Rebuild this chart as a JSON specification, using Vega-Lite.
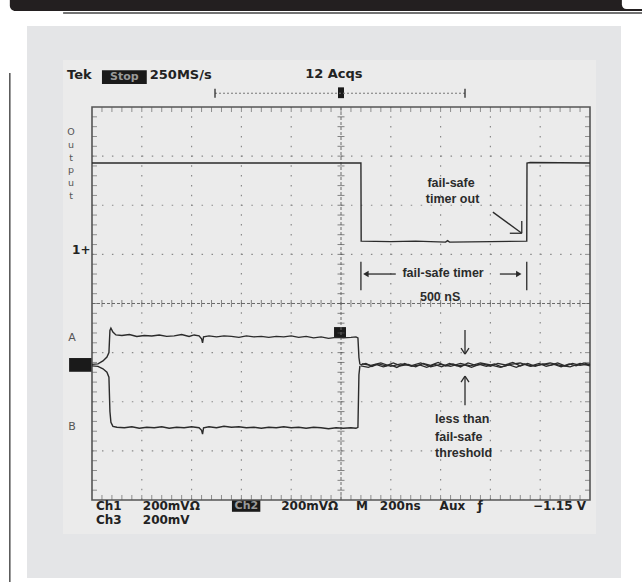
{
  "$schema": "https://vega.github.io/schema/vega-lite/v6.json",
  "width": 498,
  "height": 393,
  "autosize": {"type": "none"},
  "padding": {"left": 92, "top": 107, "right": 52, "bottom": 88},
  "background": "white",
  "config": {"view": {"stroke": null}},
  "datasets": {
    "frame": [
      {"part": "panel", "x0": -6.305, "x1": 5.622, "y0": 5.649, "y1": -5.588},
      {"part": "inner", "x0": -5.582, "x1": 5.12, "y0": 4.957, "y1": -4.692},
      {"part": "box", "x0": -4.8, "x1": -3.9, "y0": 4.75, "y1": 4.47},
      {"part": "box", "x0": -2.19, "x1": -1.62, "y0": -4.0, "y1": -4.24},
      {"part": "box", "x0": -5.46, "x1": -5.0, "y0": -1.11, "y1": -1.39},
      {"part": "box", "x0": -0.14, "x1": 0.1, "y0": -0.48, "y1": -0.7},
      {"part": "box", "x0": -0.06, "x1": 0.06, "y0": 4.4, "y1": 4.18}
    ],
    "bar": [{"x0": -6.65, "x1": 6.05, "y0": 6.18, "y1": 5.954}],
    "cap": [{"x0": 5.64, "x1": 6.05, "y0": 6.18, "y1": 5.995}],
    "flines": [
      {"x0": -6.65, "y0": 4.69, "x1": -6.65, "y1": -5.67},
      {"x0": -5.58, "y0": 5.913, "x1": 6.05, "y1": 5.913}
    ],
    "gx": [{"v": -4}, {"v": -3}, {"v": -2}, {"v": -1}, {"v": 1}, {"v": 2}, {"v": 3}, {"v": 4}],
    "gy": [{"v": -3}, {"v": -2}, {"v": -1}, {"v": 1}, {"v": 2}, {"v": 3}],
    "mx": [
      {"p": -4.8}, {"p": -4.6}, {"p": -4.4}, {"p": -4.2}, {"p": -4.0}, {"p": -3.8}, {"p": -3.6}, {"p": -3.4}, {"p": -3.2}, {"p": -3.0},
      {"p": -2.8}, {"p": -2.6}, {"p": -2.4}, {"p": -2.2}, {"p": -2.0}, {"p": -1.8}, {"p": -1.6}, {"p": -1.4}, {"p": -1.2}, {"p": -1.0},
      {"p": -0.8}, {"p": -0.6}, {"p": -0.4}, {"p": -0.2}, {"p": 0.0}, {"p": 0.2}, {"p": 0.4}, {"p": 0.6}, {"p": 0.8}, {"p": 1.0},
      {"p": 1.2}, {"p": 1.4}, {"p": 1.6}, {"p": 1.8}, {"p": 2.0}, {"p": 2.2}, {"p": 2.4}, {"p": 2.6}, {"p": 2.8}, {"p": 3.0},
      {"p": 3.2}, {"p": 3.4}, {"p": 3.6}, {"p": 3.8}, {"p": 4.0}, {"p": 4.2}, {"p": 4.4}, {"p": 4.6}, {"p": 4.8}
    ],
    "my": [
      {"p": -3.8}, {"p": -3.6}, {"p": -3.4}, {"p": -3.2}, {"p": -3.0}, {"p": -2.8}, {"p": -2.6}, {"p": -2.4}, {"p": -2.2}, {"p": -2.0},
      {"p": -1.8}, {"p": -1.6}, {"p": -1.4}, {"p": -1.2}, {"p": -1.0}, {"p": -0.8}, {"p": -0.6}, {"p": -0.4}, {"p": -0.2}, {"p": 0.0},
      {"p": 0.2}, {"p": 0.4}, {"p": 0.6}, {"p": 0.8}, {"p": 1.0}, {"p": 1.2}, {"p": 1.4}, {"p": 1.6}, {"p": 1.8}, {"p": 2.0},
      {"p": 2.2}, {"p": 2.4}, {"p": 2.6}, {"p": 2.8}, {"p": 3.0}, {"p": 3.2}, {"p": 3.4}, {"p": 3.6}, {"p": 3.8}
    ],
    "traces": [
      {"s": "Out", "x": -5, "y": 2.86}, {"s": "Out", "x": 0.4, "y": 2.86}, {"s": "Out", "x": 0.405, "y": 1.27},
      {"s": "Out", "x": 1.0, "y": 1.26}, {"s": "Out", "x": 1.5, "y": 1.27}, {"s": "Out", "x": 2.1, "y": 1.25},
      {"s": "Out", "x": 2.14, "y": 1.28}, {"s": "Out", "x": 2.18, "y": 1.25}, {"s": "Out", "x": 3.0, "y": 1.26},
      {"s": "Out", "x": 3.73, "y": 1.27}, {"s": "Out", "x": 3.735, "y": 2.86}, {"s": "Out", "x": 3.8, "y": 2.87},
      {"s": "Out", "x": 5, "y": 2.86},

      {"s": "A", "x": -5, "y": -1.24}, {"s": "A", "x": -4.88, "y": -1.23}, {"s": "A", "x": -4.78, "y": -1.17},
      {"s": "A", "x": -4.7, "y": -1.09}, {"s": "A", "x": -4.66, "y": -1.0}, {"s": "A", "x": -4.64, "y": -0.55},
      {"s": "A", "x": -4.62, "y": -0.5}, {"s": "A", "x": -4.58, "y": -0.58}, {"s": "A", "x": -4.52, "y": -0.64},
      {"s": "A", "x": -4.4, "y": -0.65}, {"s": "A", "x": -4.25, "y": -0.63}, {"s": "A", "x": -4.1, "y": -0.67},
      {"s": "A", "x": -3.95, "y": -0.65}, {"s": "A", "x": -3.8, "y": -0.66}, {"s": "A", "x": -3.65, "y": -0.64},
      {"s": "A", "x": -3.5, "y": -0.67}, {"s": "A", "x": -3.35, "y": -0.66}, {"s": "A", "x": -3.2, "y": -0.63},
      {"s": "A", "x": -3.05, "y": -0.67}, {"s": "A", "x": -2.95, "y": -0.64}, {"s": "A", "x": -2.85, "y": -0.66},
      {"s": "A", "x": -2.8, "y": -0.72}, {"s": "A", "x": -2.78, "y": -0.8}, {"s": "A", "x": -2.76, "y": -0.68},
      {"s": "A", "x": -2.65, "y": -0.66}, {"s": "A", "x": -2.5, "y": -0.68}, {"s": "A", "x": -2.35, "y": -0.66},
      {"s": "A", "x": -2.2, "y": -0.67}, {"s": "A", "x": -2.05, "y": -0.69}, {"s": "A", "x": -1.9, "y": -0.66},
      {"s": "A", "x": -1.75, "y": -0.68}, {"s": "A", "x": -1.6, "y": -0.67}, {"s": "A", "x": -1.45, "y": -0.69},
      {"s": "A", "x": -1.3, "y": -0.67}, {"s": "A", "x": -1.15, "y": -0.68}, {"s": "A", "x": -1.0, "y": -0.66},
      {"s": "A", "x": -0.85, "y": -0.69}, {"s": "A", "x": -0.7, "y": -0.67}, {"s": "A", "x": -0.55, "y": -0.7},
      {"s": "A", "x": -0.4, "y": -0.68}, {"s": "A", "x": -0.25, "y": -0.71}, {"s": "A", "x": -0.1, "y": -0.69},
      {"s": "A", "x": 0.05, "y": -0.7}, {"s": "A", "x": 0.2, "y": -0.69}, {"s": "A", "x": 0.3, "y": -0.68},
      {"s": "A", "x": 0.34, "y": -0.7}, {"s": "A", "x": 0.36, "y": -1.1}, {"s": "A", "x": 0.38, "y": -1.24},

      {"s": "B", "x": -5, "y": -1.27}, {"s": "B", "x": -4.88, "y": -1.28}, {"s": "B", "x": -4.78, "y": -1.33},
      {"s": "B", "x": -4.7, "y": -1.4}, {"s": "B", "x": -4.66, "y": -1.5}, {"s": "B", "x": -4.64, "y": -2.2},
      {"s": "B", "x": -4.62, "y": -2.42}, {"s": "B", "x": -4.58, "y": -2.5}, {"s": "B", "x": -4.5, "y": -2.52},
      {"s": "B", "x": -4.35, "y": -2.53}, {"s": "B", "x": -4.2, "y": -2.51}, {"s": "B", "x": -4.05, "y": -2.54},
      {"s": "B", "x": -3.9, "y": -2.52}, {"s": "B", "x": -3.75, "y": -2.53}, {"s": "B", "x": -3.6, "y": -2.51},
      {"s": "B", "x": -3.45, "y": -2.54}, {"s": "B", "x": -3.3, "y": -2.52}, {"s": "B", "x": -3.15, "y": -2.53},
      {"s": "B", "x": -3.0, "y": -2.51}, {"s": "B", "x": -2.85, "y": -2.53}, {"s": "B", "x": -2.8, "y": -2.58},
      {"s": "B", "x": -2.78, "y": -2.66}, {"s": "B", "x": -2.76, "y": -2.53}, {"s": "B", "x": -2.65, "y": -2.51},
      {"s": "B", "x": -2.5, "y": -2.53}, {"s": "B", "x": -2.35, "y": -2.5}, {"s": "B", "x": -2.2, "y": -2.52},
      {"s": "B", "x": -2.05, "y": -2.51}, {"s": "B", "x": -1.9, "y": -2.53}, {"s": "B", "x": -1.75, "y": -2.52},
      {"s": "B", "x": -1.6, "y": -2.54}, {"s": "B", "x": -1.45, "y": -2.52}, {"s": "B", "x": -1.3, "y": -2.53},
      {"s": "B", "x": -1.15, "y": -2.51}, {"s": "B", "x": -1.0, "y": -2.53}, {"s": "B", "x": -0.85, "y": -2.52},
      {"s": "B", "x": -0.7, "y": -2.54}, {"s": "B", "x": -0.55, "y": -2.52}, {"s": "B", "x": -0.4, "y": -2.53},
      {"s": "B", "x": -0.25, "y": -2.55}, {"s": "B", "x": -0.1, "y": -2.53}, {"s": "B", "x": 0.05, "y": -2.54},
      {"s": "B", "x": 0.2, "y": -2.53}, {"s": "B", "x": 0.3, "y": -2.54}, {"s": "B", "x": 0.34, "y": -2.52},
      {"s": "B", "x": 0.36, "y": -1.45}, {"s": "B", "x": 0.38, "y": -1.27},

      {"s": "N1", "x": 0.38, "y": -1.25}, {"s": "N1", "x": 0.5, "y": -1.22}, {"s": "N1", "x": 0.62, "y": -1.28},
      {"s": "N1", "x": 0.75, "y": -1.23}, {"s": "N1", "x": 0.9, "y": -1.27}, {"s": "N1", "x": 1.05, "y": -1.21},
      {"s": "N1", "x": 1.2, "y": -1.27}, {"s": "N1", "x": 1.35, "y": -1.24}, {"s": "N1", "x": 1.5, "y": -1.29},
      {"s": "N1", "x": 1.65, "y": -1.22}, {"s": "N1", "x": 1.8, "y": -1.26}, {"s": "N1", "x": 1.95, "y": -1.2},
      {"s": "N1", "x": 2.1, "y": -1.27}, {"s": "N1", "x": 2.25, "y": -1.23}, {"s": "N1", "x": 2.4, "y": -1.29},
      {"s": "N1", "x": 2.55, "y": -1.21}, {"s": "N1", "x": 2.7, "y": -1.26}, {"s": "N1", "x": 2.85, "y": -1.23},
      {"s": "N1", "x": 3.0, "y": -1.28}, {"s": "N1", "x": 3.15, "y": -1.22}, {"s": "N1", "x": 3.3, "y": -1.25},
      {"s": "N1", "x": 3.45, "y": -1.2}, {"s": "N1", "x": 3.6, "y": -1.27}, {"s": "N1", "x": 3.75, "y": -1.22},
      {"s": "N1", "x": 3.9, "y": -1.28}, {"s": "N1", "x": 4.05, "y": -1.23}, {"s": "N1", "x": 4.2, "y": -1.26},
      {"s": "N1", "x": 4.35, "y": -1.21}, {"s": "N1", "x": 4.5, "y": -1.27}, {"s": "N1", "x": 4.65, "y": -1.22},
      {"s": "N1", "x": 4.8, "y": -1.26}, {"s": "N1", "x": 5.0, "y": -1.23},

      {"s": "N2", "x": 0.4, "y": -1.27}, {"s": "N2", "x": 0.55, "y": -1.3}, {"s": "N2", "x": 0.7, "y": -1.24},
      {"s": "N2", "x": 0.85, "y": -1.29}, {"s": "N2", "x": 1.0, "y": -1.25}, {"s": "N2", "x": 1.12, "y": -1.3},
      {"s": "N2", "x": 1.28, "y": -1.22}, {"s": "N2", "x": 1.42, "y": -1.28}, {"s": "N2", "x": 1.58, "y": -1.25},
      {"s": "N2", "x": 1.72, "y": -1.3}, {"s": "N2", "x": 1.88, "y": -1.24}, {"s": "N2", "x": 2.02, "y": -1.29},
      {"s": "N2", "x": 2.18, "y": -1.22}, {"s": "N2", "x": 2.32, "y": -1.27}, {"s": "N2", "x": 2.48, "y": -1.25},
      {"s": "N2", "x": 2.62, "y": -1.3}, {"s": "N2", "x": 2.78, "y": -1.24}, {"s": "N2", "x": 2.92, "y": -1.28},
      {"s": "N2", "x": 3.08, "y": -1.23}, {"s": "N2", "x": 3.22, "y": -1.29}, {"s": "N2", "x": 3.38, "y": -1.25},
      {"s": "N2", "x": 3.52, "y": -1.3}, {"s": "N2", "x": 3.68, "y": -1.23}, {"s": "N2", "x": 3.82, "y": -1.27},
      {"s": "N2", "x": 3.98, "y": -1.22}, {"s": "N2", "x": 4.12, "y": -1.28}, {"s": "N2", "x": 4.28, "y": -1.24},
      {"s": "N2", "x": 4.42, "y": -1.29}, {"s": "N2", "x": 4.58, "y": -1.23}, {"s": "N2", "x": 4.72, "y": -1.27},
      {"s": "N2", "x": 4.88, "y": -1.21}, {"s": "N2", "x": 5.0, "y": -1.25},

      {"s": "N3", "x": 0.42, "y": -1.23}, {"s": "N3", "x": 0.6, "y": -1.26}, {"s": "N3", "x": 0.8, "y": -1.21},
      {"s": "N3", "x": 1.0, "y": -1.28}, {"s": "N3", "x": 1.2, "y": -1.23}, {"s": "N3", "x": 1.4, "y": -1.27},
      {"s": "N3", "x": 1.6, "y": -1.21}, {"s": "N3", "x": 1.8, "y": -1.29}, {"s": "N3", "x": 2.0, "y": -1.24},
      {"s": "N3", "x": 2.2, "y": -1.28}, {"s": "N3", "x": 2.4, "y": -1.22}, {"s": "N3", "x": 2.6, "y": -1.27},
      {"s": "N3", "x": 2.8, "y": -1.21}, {"s": "N3", "x": 3.0, "y": -1.25}, {"s": "N3", "x": 3.2, "y": -1.3},
      {"s": "N3", "x": 3.4, "y": -1.24}, {"s": "N3", "x": 3.6, "y": -1.21}, {"s": "N3", "x": 3.8, "y": -1.28},
      {"s": "N3", "x": 4.0, "y": -1.25}, {"s": "N3", "x": 4.2, "y": -1.21}, {"s": "N3", "x": 4.4, "y": -1.26},
      {"s": "N3", "x": 4.6, "y": -1.29}, {"s": "N3", "x": 4.8, "y": -1.22}, {"s": "N3", "x": 5.0, "y": -1.27}
    ],
    "segs": [
      {"x0": 3.05, "y0": 1.86, "x1": 3.63, "y1": 1.43},
      {"x0": 3.39, "y0": 1.43, "x1": 3.63, "y1": 1.43},
      {"x0": 3.63, "y0": 1.68, "x1": 3.63, "y1": 1.43},
      {"x0": 0.5, "y0": 0.6, "x1": 1.1, "y1": 0.6},
      {"x0": 3.19, "y0": 0.6, "x1": 3.55, "y1": 0.6},
      {"x0": 0.4, "y0": 0.85, "x1": 0.4, "y1": 0.27},
      {"x0": 3.73, "y0": 0.85, "x1": 3.73, "y1": 0.27},
      {"x0": 2.49, "y0": -0.54, "x1": 2.49, "y1": -1.03},
      {"x0": 2.41, "y0": -0.91, "x1": 2.49, "y1": -1.03},
      {"x0": 2.57, "y0": -0.91, "x1": 2.49, "y1": -1.03},
      {"x0": 2.49, "y0": -2.07, "x1": 2.49, "y1": -1.48},
      {"x0": 2.41, "y0": -1.6, "x1": 2.49, "y1": -1.48},
      {"x0": 2.57, "y0": -1.6, "x1": 2.49, "y1": -1.48},
      {"x0": -2.53, "y0": 4.37, "x1": -2.53, "y1": 4.19},
      {"x0": 2.49, "y0": 4.37, "x1": 2.49, "y1": 4.19}
    ],
    "trig": [{"x0": -2.53, "y0": 4.28, "x1": 2.49, "y1": 4.28}],
    "heads": [
      {"dir": "left", "x": 0.5, "y": 0.6},
      {"dir": "right", "x": 3.57, "y": 0.6}
    ],
    "scopeTop": [
      {"t": "Tek", "x": -5.5, "y": 4.65},
      {"t": "250MS/s", "x": -3.84, "y": 4.65},
      {"t": "12 Acqs", "x": -0.72, "y": 4.67}
    ],
    "scopeBottom": [
      {"t": "Ch1", "x": -4.92, "y": -4.13},
      {"t": "200mVΩ", "x": -3.98, "y": -4.13},
      {"t": "200mVΩ", "x": -1.2, "y": -4.13},
      {"t": "M", "x": 0.3, "y": -4.13},
      {"t": "200ns", "x": 0.78, "y": -4.13},
      {"t": "Aux", "x": 1.98, "y": -4.13},
      {"t": "ƒ", "x": 2.74, "y": -4.13},
      {"t": "Ch3", "x": -4.92, "y": -4.4},
      {"t": "200mV", "x": -3.98, "y": -4.4}
    ],
    "scopeRight": [{"t": "−1.15 V", "x": 4.92, "y": -4.13}],
    "boxText": [
      {"t": "Stop", "x": -4.35, "y": 4.61},
      {"t": "Ch2", "x": -1.9, "y": -4.12}
    ],
    "sideText": [
      {"t": "A", "x": -5.4, "y": -0.7},
      {"t": "B", "x": -5.4, "y": -2.52}
    ],
    "refText": [{"t": "1+", "x": -5.03, "y": 1.09}],
    "letters": [
      {"t": "O", "x": -5.42, "y": 3.49},
      {"t": "u", "x": -5.42, "y": 3.23},
      {"t": "t", "x": -5.42, "y": 2.97},
      {"t": "p", "x": -5.42, "y": 2.71},
      {"t": "u", "x": -5.42, "y": 2.45},
      {"t": "t", "x": -5.42, "y": 2.19}
    ],
    "notes": [
      {"t": "fail-safe", "x": 2.21, "y": 2.45},
      {"t": "timer out", "x": 2.24, "y": 2.12},
      {"t": "fail-safe timer", "x": 2.05, "y": 0.63},
      {"t": "500 nS", "x": 1.99, "y": 0.13}
    ],
    "notesLeft": [
      {"t": "less than", "x": 1.89, "y": -2.36},
      {"t": "fail-safe", "x": 1.89, "y": -2.71},
      {"t": "threshold", "x": 1.89, "y": -3.04}
    ]
  },
  "layer": [
    {
      "data": {"name": "frame"},
      "mark": {"type": "rect"},
      "encoding": {
        "x": {"field": "x0", "type": "quantitative", "scale": {"domain": [-5, 5]}, "axis": null},
        "x2": {"field": "x1"},
        "y": {"field": "y0", "type": "quantitative", "scale": {"domain": [-4, 4]}, "axis": null},
        "y2": {"field": "y1"},
        "color": {"field": "part", "type": "nominal", "scale": {"domain": ["panel", "inner", "box"], "range": ["#e4e5e7", "#ebebeb", "#1a1a1a"]}, "legend": null}
      }
    },
    {
      "data": {"name": "bar"},
      "mark": {"type": "rect", "color": "#231f20", "cornerRadiusBottomLeft": 10},
      "encoding": {
        "x": {"field": "x0", "type": "quantitative", "scale": {"domain": [-5, 5]}, "axis": null},
        "x2": {"field": "x1"},
        "y": {"field": "y0", "type": "quantitative", "scale": {"domain": [-4, 4]}, "axis": null},
        "y2": {"field": "y1"}
      }
    },
    {
      "data": {"name": "cap"},
      "mark": {"type": "rect", "color": "white", "cornerRadiusBottomLeft": 6},
      "encoding": {
        "x": {"field": "x0", "type": "quantitative", "scale": {"domain": [-5, 5]}, "axis": null},
        "x2": {"field": "x1"},
        "y": {"field": "y0", "type": "quantitative", "scale": {"domain": [-4, 4]}, "axis": null},
        "y2": {"field": "y1"}
      }
    },
    {
      "data": {"name": "flines"},
      "mark": {"type": "rule", "color": "#444", "strokeWidth": 1.4},
      "encoding": {
        "x": {"field": "x0", "type": "quantitative", "scale": {"domain": [-5, 5]}, "axis": null},
        "x2": {"field": "x1"},
        "y": {"field": "y0", "type": "quantitative", "scale": {"domain": [-4, 4]}, "axis": null},
        "y2": {"field": "y1"}
      }
    },
    {
      "data": {"name": "gx"},
      "mark": {"type": "rule", "color": "#8a8a8a", "strokeWidth": 1.2, "strokeDash": [1.5, 8.3]},
      "encoding": {
        "x": {"field": "v", "type": "quantitative", "scale": {"domain": [-5, 5]}, "axis": null},
        "y": {"datum": -4, "type": "quantitative", "scale": {"domain": [-4, 4]}, "axis": null},
        "y2": {"datum": 4}
      }
    },
    {
      "data": {"name": "gy"},
      "mark": {"type": "rule", "color": "#8a8a8a", "strokeWidth": 1.2, "strokeDash": [1.5, 8.46]},
      "encoding": {
        "y": {"field": "v", "type": "quantitative", "scale": {"domain": [-4, 4]}, "axis": null},
        "x": {"datum": -5, "type": "quantitative", "scale": {"domain": [-5, 5]}, "axis": null},
        "x2": {"datum": 5}
      }
    },
    {
      "data": {"name": "trig"},
      "mark": {"type": "rule", "color": "#6a6a6a", "strokeWidth": 1, "strokeDash": [3, 2]},
      "encoding": {
        "x": {"datum": -5, "type": "quantitative", "scale": {"domain": [-5, 5]}, "axis": null},
        "x2": {"datum": 5},
        "y": {"datum": 0, "type": "quantitative", "scale": {"domain": [-4, 4]}, "axis": null}
      }
    },
    {
      "data": {"name": "trig"},
      "mark": {"type": "rule", "color": "#6a6a6a", "strokeWidth": 1, "strokeDash": [3, 2]},
      "encoding": {
        "y": {"datum": -4, "type": "quantitative", "scale": {"domain": [-4, 4]}, "axis": null},
        "y2": {"datum": 4},
        "x": {"datum": 0, "type": "quantitative", "scale": {"domain": [-5, 5]}, "axis": null}
      }
    },
    {
      "data": {"name": "mx"},
      "mark": {"type": "tick", "orient": "vertical", "color": "#666", "size": 5, "thickness": 1},
      "encoding": {
        "x": {"field": "p", "type": "quantitative", "scale": {"domain": [-5, 5]}, "axis": null},
        "y": {"datum": 3.95, "type": "quantitative", "scale": {"domain": [-4, 4]}, "axis": null}
      }
    },
    {
      "data": {"name": "mx"},
      "mark": {"type": "tick", "orient": "vertical", "color": "#666", "size": 5, "thickness": 1},
      "encoding": {
        "x": {"field": "p", "type": "quantitative", "scale": {"domain": [-5, 5]}, "axis": null},
        "y": {"datum": -3.95, "type": "quantitative", "scale": {"domain": [-4, 4]}, "axis": null}
      }
    },
    {
      "data": {"name": "mx"},
      "mark": {"type": "tick", "orient": "vertical", "color": "#555", "size": 7, "thickness": 1},
      "encoding": {
        "x": {"field": "p", "type": "quantitative", "scale": {"domain": [-5, 5]}, "axis": null},
        "y": {"datum": 0, "type": "quantitative", "scale": {"domain": [-4, 4]}, "axis": null}
      }
    },
    {
      "data": {"name": "my"},
      "mark": {"type": "tick", "orient": "horizontal", "color": "#666", "size": 5, "thickness": 1},
      "encoding": {
        "y": {"field": "p", "type": "quantitative", "scale": {"domain": [-4, 4]}, "axis": null},
        "x": {"datum": -4.95, "type": "quantitative", "scale": {"domain": [-5, 5]}, "axis": null}
      }
    },
    {
      "data": {"name": "my"},
      "mark": {"type": "tick", "orient": "horizontal", "color": "#666", "size": 5, "thickness": 1},
      "encoding": {
        "y": {"field": "p", "type": "quantitative", "scale": {"domain": [-4, 4]}, "axis": null},
        "x": {"datum": 4.95, "type": "quantitative", "scale": {"domain": [-5, 5]}, "axis": null}
      }
    },
    {
      "data": {"name": "my"},
      "mark": {"type": "tick", "orient": "horizontal", "color": "#555", "size": 7, "thickness": 1},
      "encoding": {
        "y": {"field": "p", "type": "quantitative", "scale": {"domain": [-4, 4]}, "axis": null},
        "x": {"datum": 0, "type": "quantitative", "scale": {"domain": [-5, 5]}, "axis": null}
      }
    },
    {
      "data": {"name": "bar"},
      "mark": {"type": "rect", "fill": null, "stroke": "#555", "strokeWidth": 1.6},
      "encoding": {
        "x": {"datum": -5, "type": "quantitative", "scale": {"domain": [-5, 5]}, "axis": null},
        "x2": {"datum": 5},
        "y": {"datum": -4, "type": "quantitative", "scale": {"domain": [-4, 4]}, "axis": null},
        "y2": {"datum": 4}
      }
    },
    {
      "data": {"name": "trig"},
      "mark": {"type": "rule", "color": "#777", "strokeWidth": 1, "strokeDash": [2, 2]},
      "encoding": {
        "x": {"field": "x0", "type": "quantitative", "scale": {"domain": [-5, 5]}, "axis": null},
        "x2": {"field": "x1"},
        "y": {"field": "y0", "type": "quantitative", "scale": {"domain": [-4, 4]}, "axis": null},
        "y2": {"field": "y1"}
      }
    },
    {
      "data": {"name": "traces"},
      "mark": {"type": "line", "color": "#2b2b2b", "strokeWidth": 1.4},
      "encoding": {
        "x": {"field": "x", "type": "quantitative", "scale": {"domain": [-5, 5]}, "axis": null},
        "y": {"field": "y", "type": "quantitative", "scale": {"domain": [-4, 4]}, "axis": null},
        "detail": {"field": "s", "type": "nominal"}
      }
    },
    {
      "data": {"name": "segs"},
      "mark": {"type": "rule", "color": "#2b2b2b", "strokeWidth": 1.3},
      "encoding": {
        "x": {"field": "x0", "type": "quantitative", "scale": {"domain": [-5, 5]}, "axis": null},
        "x2": {"field": "x1"},
        "y": {"field": "y0", "type": "quantitative", "scale": {"domain": [-4, 4]}, "axis": null},
        "y2": {"field": "y1"}
      }
    },
    {
      "data": {"name": "heads"},
      "mark": {"type": "point", "filled": true, "color": "#2b2b2b", "size": 40, "opacity": 1},
      "encoding": {
        "x": {"field": "x", "type": "quantitative", "scale": {"domain": [-5, 5]}, "axis": null},
        "y": {"field": "y", "type": "quantitative", "scale": {"domain": [-4, 4]}, "axis": null},
        "shape": {"field": "dir", "type": "nominal", "scale": {"domain": ["left", "right"], "range": ["triangle-left", "triangle-right"]}, "legend": null}
      }
    },
    {
      "data": {"name": "scopeTop"},
      "mark": {"type": "text", "align": "left", "baseline": "middle", "font": "DejaVu Sans", "fontWeight": "bold", "fontSize": 13, "color": "#222"},
      "encoding": {
        "x": {"field": "x", "type": "quantitative", "scale": {"domain": [-5, 5]}, "axis": null},
        "y": {"field": "y", "type": "quantitative", "scale": {"domain": [-4, 4]}, "axis": null},
        "text": {"field": "t"}
      }
    },
    {
      "data": {"name": "scopeBottom"},
      "mark": {"type": "text", "align": "left", "baseline": "middle", "font": "DejaVu Sans", "fontWeight": "bold", "fontSize": 12, "color": "#222"},
      "encoding": {
        "x": {"field": "x", "type": "quantitative", "scale": {"domain": [-5, 5]}, "axis": null},
        "y": {"field": "y", "type": "quantitative", "scale": {"domain": [-4, 4]}, "axis": null},
        "text": {"field": "t"}
      }
    },
    {
      "data": {"name": "scopeRight"},
      "mark": {"type": "text", "align": "right", "baseline": "middle", "font": "DejaVu Sans", "fontWeight": "bold", "fontSize": 12, "color": "#222"},
      "encoding": {
        "x": {"field": "x", "type": "quantitative", "scale": {"domain": [-5, 5]}, "axis": null},
        "y": {"field": "y", "type": "quantitative", "scale": {"domain": [-4, 4]}, "axis": null},
        "text": {"field": "t"}
      }
    },
    {
      "data": {"name": "boxText"},
      "mark": {"type": "text", "align": "center", "baseline": "middle", "font": "DejaVu Sans", "fontWeight": "bold", "fontSize": 11, "color": "#9a9a9a"},
      "encoding": {
        "x": {"field": "x", "type": "quantitative", "scale": {"domain": [-5, 5]}, "axis": null},
        "y": {"field": "y", "type": "quantitative", "scale": {"domain": [-4, 4]}, "axis": null},
        "text": {"field": "t"}
      }
    },
    {
      "data": {"name": "sideText"},
      "mark": {"type": "text", "align": "center", "baseline": "middle", "font": "DejaVu Sans", "fontSize": 11, "color": "#555"},
      "encoding": {
        "x": {"field": "x", "type": "quantitative", "scale": {"domain": [-5, 5]}, "axis": null},
        "y": {"field": "y", "type": "quantitative", "scale": {"domain": [-4, 4]}, "axis": null},
        "text": {"field": "t"}
      }
    },
    {
      "data": {"name": "refText"},
      "mark": {"type": "text", "align": "right", "baseline": "middle", "font": "DejaVu Sans", "fontWeight": "bold", "fontSize": 12, "color": "#222"},
      "encoding": {
        "x": {"field": "x", "type": "quantitative", "scale": {"domain": [-5, 5]}, "axis": null},
        "y": {"field": "y", "type": "quantitative", "scale": {"domain": [-4, 4]}, "axis": null},
        "text": {"field": "t"}
      }
    },
    {
      "data": {"name": "letters"},
      "mark": {"type": "text", "align": "center", "baseline": "middle", "font": "DejaVu Sans", "fontSize": 9.5, "color": "#555"},
      "encoding": {
        "x": {"field": "x", "type": "quantitative", "scale": {"domain": [-5, 5]}, "axis": null},
        "y": {"field": "y", "type": "quantitative", "scale": {"domain": [-4, 4]}, "axis": null},
        "text": {"field": "t"}
      }
    },
    {
      "data": {"name": "notes"},
      "mark": {"type": "text", "align": "center", "baseline": "middle", "font": "Liberation Sans", "fontWeight": "bold", "fontSize": 12.5, "color": "#2b2b2b"},
      "encoding": {
        "x": {"field": "x", "type": "quantitative", "scale": {"domain": [-5, 5]}, "axis": null},
        "y": {"field": "y", "type": "quantitative", "scale": {"domain": [-4, 4]}, "axis": null},
        "text": {"field": "t"}
      }
    },
    {
      "data": {"name": "notesLeft"},
      "mark": {"type": "text", "align": "left", "baseline": "middle", "font": "Liberation Sans", "fontWeight": "bold", "fontSize": 12.5, "color": "#2b2b2b"},
      "encoding": {
        "x": {"field": "x", "type": "quantitative", "scale": {"domain": [-5, 5]}, "axis": null},
        "y": {"field": "y", "type": "quantitative", "scale": {"domain": [-4, 4]}, "axis": null},
        "text": {"field": "t"}
      }
    }
  ]
}
